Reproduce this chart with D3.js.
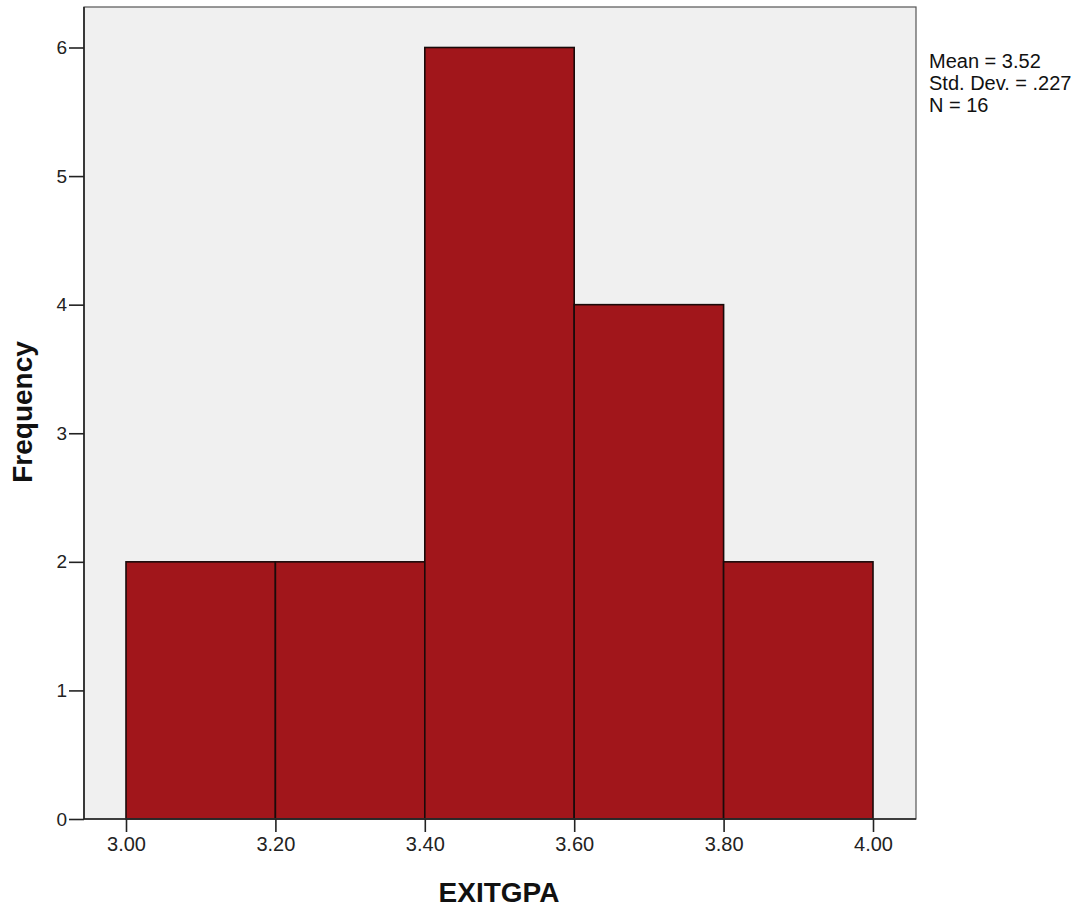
<!DOCTYPE html>
<html><head><meta charset="utf-8">
<script src="https://cdn.jsdelivr.net/npm/d3@7"></script>
<style>body{margin:0;background:#fff;} svg{display:block;font-family:"Liberation Sans",Arial,sans-serif;}</style>
</head><body><svg id="c" width="1090" height="914"></svg>
<script>
const binStarts = [3.0, 3.2, 3.4, 3.6, 3.8];
const binWidth = 0.2;
const frequencies = [2, 2, 6, 4, 2];
const xTicks = [3.0, 3.2, 3.4, 3.6, 3.8, 4.0];
const yTicks = [0, 1, 2, 3, 4, 5, 6];
const statsLines = ["Mean = 3.52", "Std. Dev. = .227", "N = 16"];

const svg = d3.select("#c");
const L = 84, R = 916, T = 7, B = 819;
const x = d3.scaleLinear().domain([3.0, 4.0]).range([126, 873]);
const y = d3.scaleLinear().domain([0, 6]).range([B, 47.5]);

svg.append("rect").attr("x", L).attr("y", T).attr("width", R - L).attr("height", B - T)
  .attr("fill", "#f0f0f0").attr("stroke", "none");

svg.append("g").selectAll("rect").data(binStarts).join("rect")
  .attr("x", d => x(d)).attr("width", d => x(d + binWidth) - x(d))
  .attr("y", (d, i) => y(frequencies[i])).attr("height", (d, i) => y(0) - y(frequencies[i]))
  .attr("fill", "#a1161b").attr("stroke", "#1a0a0a").attr("stroke-width", 1.6);

// frame
svg.append("rect").attr("x", L).attr("y", T).attr("width", R - L).attr("height", B - T)
  .attr("fill", "none").attr("stroke", "#555").attr("stroke-width", 1.2);
svg.append("line").attr("x1", L).attr("x2", L).attr("y1", T).attr("y2", B).attr("stroke", "#222").attr("stroke-width", 1.6);
svg.append("line").attr("x1", L).attr("x2", R).attr("y1", B).attr("y2", B).attr("stroke", "#222").attr("stroke-width", 1.6);

const xAxis = d3.axisBottom(x).tickValues(xTicks).tickFormat(d3.format(".2f")).tickSize(13).tickPadding(5);
const gx = svg.append("g").attr("transform", `translate(0,${B})`).call(xAxis);
gx.select(".domain").remove();
gx.selectAll("line").attr("stroke", "#222").attr("stroke-width", 1.6);
gx.selectAll("text").attr("font-size", 20).attr("fill", "#222").attr("font-family", "Liberation Sans, Arial, sans-serif");

const yAxis = d3.axisLeft(y).tickValues(yTicks).tickFormat(d3.format("d")).tickSize(15).tickPadding(2);
const gy = svg.append("g").attr("transform", `translate(${L},0)`).call(yAxis);
gy.select(".domain").remove();
gy.selectAll("line").attr("stroke", "#222").attr("stroke-width", 1.6);
gy.selectAll("text").attr("font-size", 19).attr("fill", "#222").attr("font-family", "Liberation Sans, Arial, sans-serif");

svg.append("text").attr("x", 499).attr("y", 902).attr("text-anchor", "middle")
  .attr("font-size", 28).attr("font-weight", "bold").attr("fill", "#111").text("EXITGPA");
svg.append("text").attr("transform", "translate(32,412) rotate(-90)").attr("text-anchor", "middle")
  .attr("font-size", 28).attr("font-weight", "bold").attr("fill", "#111").text("Frequency");

svg.append("g").selectAll("text").data(statsLines).join("text")
  .attr("x", 929).attr("y", (d, i) => 68 + i * 22)
  .attr("font-size", 20).attr("fill", "#111").text(d => d);
</script></body></html>
